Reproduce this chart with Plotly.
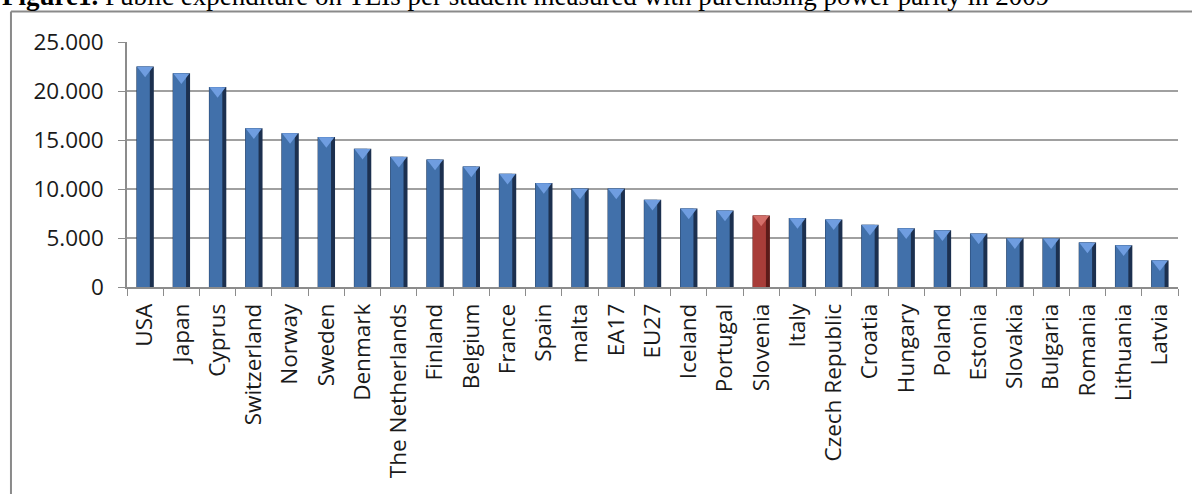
import plotly.graph_objects as go

countries = ["USA", "Japan", "Cyprus", "Switzerland", "Norway", "Sweden", "Denmark",
             "The Netherlands", "Finland", "Belgium", "France", "Spain", "malta", "EA17",
             "EU27", "Iceland", "Portugal", "Slovenia", "Italy", "Czech Republic", "Croatia",
             "Hungary", "Poland", "Estonia", "Slovakia", "Bulgaria", "Romania", "Lithuania",
             "Latvia"]
expenditure = [22500, 21800, 20400, 16200, 15700, 15300, 14100,
               13300, 13000, 12300, 11550, 10600, 10050, 10050,
               8900, 8000, 7800, 7300, 7050, 6900, 6350,
               6000, 5780, 5450, 4970, 4960, 4550, 4260,
               2720]
highlight = "Slovenia"
y_ticks = [0, 5000, 10000, 15000, 20000, 25000]

edge_col = ["#5c1b19" if c == highlight else "#1c304f" for c in countries]
body_col = ["#a83d39" if c == highlight else "#4170aa" for c in countries]
top_col = ["#d46f6a" if c == highlight else "#6f9de0" for c in countries]

fig = go.Figure()
fig.add_trace(go.Bar(x=countries, y=expenditure, width=0.48,
                     marker=dict(color=edge_col, line=dict(width=0)), hoverinfo="skip"))
fig.add_trace(go.Bar(x=countries, y=expenditure, width=0.36, offset=-0.23,
                     marker=dict(color=body_col, line=dict(width=0))))
fig.add_trace(go.Scatter(x=countries, y=[v - 380 for v in expenditure], mode="markers",
                         marker=dict(symbol="triangle-down", size=14, color=top_col,
                                     line=dict(width=0)), hoverinfo="skip"))

title_font = dict(family="Liberation Serif", size=27, color="#000000")
fig.add_annotation(
    text="<b>Figure1.</b> Public expenditure on TEIs per student measured with purchasing power parity in 2009",
    xref="paper", yref="paper", x=-0.1208, y=1.188, xanchor="left", yanchor="middle",
    showarrow=False, font=title_font)

frame = dict(color="#8a8a8a", width=2)
fig.add_shape(type="line", xref="paper", yref="paper", x0=-0.1104, x1=1.02, y0=1.125, y1=1.125, line=frame)
fig.add_shape(type="line", xref="paper", yref="paper", x0=-0.1104, x1=-0.1104, y0=1.125, y1=-0.9, line=frame)

tick_font = dict(family="Open Sans", size=22.5, color="#1a1a1a")
fig.update_layout(
    width=1192, height=494,
    margin=dict(l=127, r=14, t=42, b=207),
    paper_bgcolor="white", plot_bgcolor="white",
    barmode="overlay", showlegend=False,
    separators=",.",
    xaxis=dict(type="category", tickson="boundaries", ticks="outside", ticklen=7,
               tickcolor="#8c8c8c", showline=True, linecolor="#8c8c8c", linewidth=1.5,
               showgrid=False, tickangle=-90, tickfont=tick_font, ticklabelstandoff=6,
               range=[-0.5, len(countries) - 0.5]),
    yaxis=dict(range=[0, 25000], tickvals=y_ticks, tickformat=",d", ticks="outside",
               ticklen=7, tickcolor="#8c8c8c", showline=True, linecolor="#8c8c8c",
               linewidth=1.5, gridcolor="#a0a0a0", gridwidth=1.5, zeroline=False,
               tickfont=tick_font, ticklabelstandoff=10),
)

fig.write_html("out.html")
